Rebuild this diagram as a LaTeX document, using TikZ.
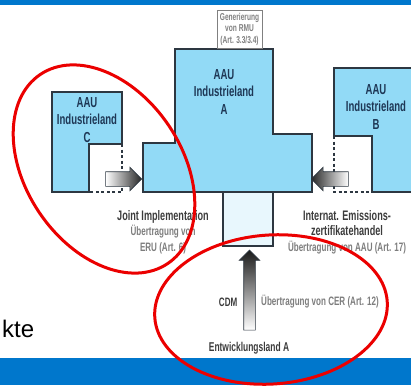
\documentclass[tikz,border=0pt]{standalone}
\usepackage{fontspec}
\setmainfont{Liberation Sans}
\newfontfamily\narrowfont[FakeStretch=0.66]{Liberation Sans Bold}
\usepackage{tikz}
\usetikzlibrary{shapes.arrows}
\usepackage{xcolor}
\definecolor{barblue}{RGB}{0,119,204}
\definecolor{landfill}{RGB}{146,218,246}
\definecolor{paleblue}{RGB}{232,247,253}
\definecolor{edgegray}{RGB}{45,55,65}
\definecolor{landtext}{RGB}{30,55,85}
\definecolor{labeldark}{RGB}{60,60,60}
\definecolor{labelgray}{RGB}{125,125,125}
\definecolor{ringred}{RGB}{235,0,0}

\begin{document}
\begin{tikzpicture}[
    x=1pt, y=-1pt,
    land/.style={draw=edgegray, fill=landfill, line width=1.4pt},
    gap/.style={draw=edgegray, line width=1.4pt, dash pattern=on 3pt off 2.5pt},
    landlabel/.style={font=\narrowfont\fontsize{14.5}{17.5}\selectfont, text=landtext, align=center, inner sep=0pt},
    mechanism/.style={font=\narrowfont\fontsize{12.2}{15.5}\selectfont, text=labelgray, align=center, inner sep=0pt},
    transfer/.style={single arrow, draw=edgegray, line width=0.6pt, single arrow head extend=4.5pt},
    ring/.style={draw=ringred, line width=3pt}
  ]
  \useasboundingbox (0,0) rectangle (411,385);
  \clip (0,0) rectangle (411,385);

  % Slide background
  \fill[barblue] (0,0) rectangle (411,5);
  \fill[barblue] (0,358) rectangle (411,385);
  \node[anchor=base west, inner sep=0pt, font=\fontsize{24}{28}\selectfont] (bullet) at (2,337.5) {kte};

  % Main components
  \path[land] (175,49) -- (273,49) -- (273,134) -- (312,134) -- (312,192) -- (143,192) -- (143,143) -- (175,143) -- cycle;
  \path[land] (52,92) -- (122,92) -- (122,144) -- (89,144) -- (89,192) -- (52,192) -- cycle;
  \path[land] (420,68) -- (334,68) -- (334,136) -- (372,136) -- (372,192) -- (420,192) -- cycle;
  \draw[gap] (122,144) -- (122,192) -- (89,192);
  \draw[gap] (334,136) -- (334,192) -- (372,192);
  \path[draw=edgegray, fill=paleblue, line width=1.4pt] (223,192) rectangle (273,246);

  \node[draw=gray, fill=white, line width=0.8pt, minimum width=45pt, minimum height=38pt, inner sep=0pt,
        align=center, text=gray, font=\narrowfont\fontsize{10}{11.5}\selectfont] (rmu) at (239.5,29)
        {Generierung\\von RMU\\(Art. 3.3/3.4)};

  \node[landlabel] (landA) at (224,92) {AAU\\Industrieland\\A};
  \node[landlabel] (landC) at (87,120) {AAU\\Industrieland\\C};
  \node[landlabel] (landB) at (376,107) {AAU\\Industrieland\\B};

  % Transfers
  \node[transfer, minimum height=36pt, inner xsep=0pt, inner ysep=7pt, left color=white, right color=gray!30!black] (ji) at (120,179) {};
  \node[transfer, minimum height=37pt, inner xsep=0pt, inner ysep=7pt, shape border rotate=180, left color=gray!30!black, right color=white] (iet) at (333.5,179) {};
  \node[transfer, minimum height=80pt, inner xsep=5.5pt, inner ysep=0pt, shape border rotate=90, top color=gray!20!black, bottom color=white] (cdm) at (249.5,293) {};

  % Notes
  \node[mechanism] (jilabel) at (163,232) {\textcolor{labeldark}{\fontsize{13.8}{15.5}\selectfont Joint Implementation}\\Übertragung von\\ERU (Art. 6)};
  \node[mechanism] (ietlabel) at (347,232) {\textcolor{labeldark}{\fontsize{13.8}{15.5}\selectfont Internat. Emissions-}\\\textcolor{labeldark}{\fontsize{13.8}{15.5}\selectfont zertifikatehandel}\\Übertragung von AAU (Art. 17)};
  \node[mechanism, text=labeldark, anchor=east] (cdmname) at (237.5,302) {CDM};
  \node[mechanism, anchor=west] (cdmlabel) at (261,302) {Übertragung von CER (Art. 12)};
  \node[mechanism, text=labeldark, font=\narrowfont\fontsize{12.8}{15.5}\selectfont] (devland) at (249,348) {Entwicklungsland A};

  % Highlights
  \draw[ring, rotate around={-56:(104,169)}] (104,169) ellipse [x radius=114, y radius=78];
  \draw[ring, rotate around={4:(271,309.5)}] (271,309.5) ellipse [x radius=116.5, y radius=74.5];

\end{tikzpicture}
\end{document}
